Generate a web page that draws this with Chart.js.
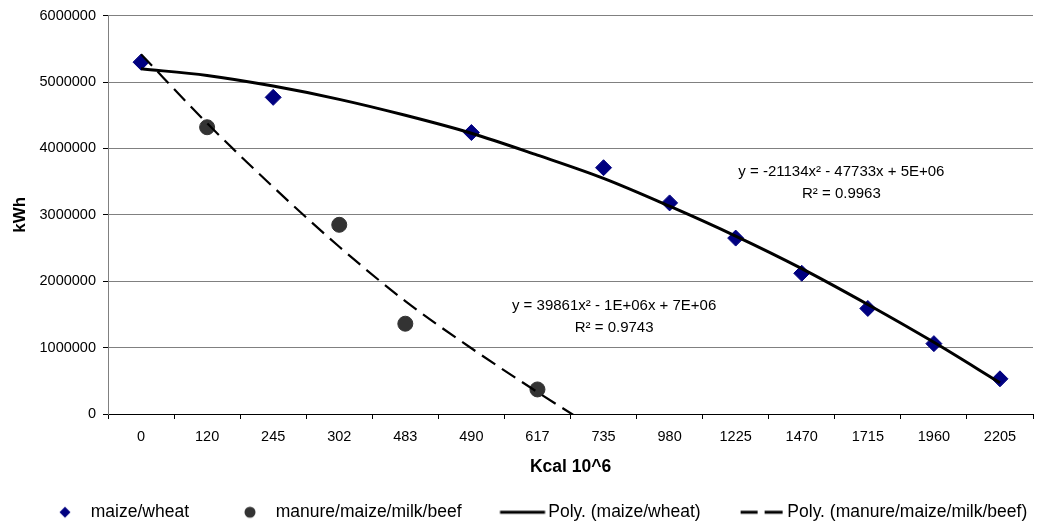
<!DOCTYPE html>
<html>
<head>
<meta charset="utf-8">
<script src="https://cdn.jsdelivr.net/npm/chart.js@4"></script>
<style>
html, body { margin: 0; padding: 0; background: #ffffff; }
#wrap { width: 1049px; height: 524px; position: relative; }
</style>
</head>
<body>
<div id="wrap"><canvas id="chart"></canvas></div>
<script>
// ---- data ----
const categories = ['0', '120', '245', '302', '483', '490', '617', '735', '980', '1225', '1470', '1715', '1960', '2205'];
const maizeWheat = [5300000, null, 4770000, null, null, 4240000, null, 3710000, 3180000, 2650000, 2120000, 1590000, 1060000, 530000];
const manure = [null, 4320000, null, 2850000, 1360000, null, 370000, null, null, null, null, null, null, null];
const polyMaizeWheat = [5200000, 5100000, 4940000, 4740000, 4500000, 4230000, 3900000, 3550000, 3130000, 2680000, 2190000, 1650000, 1080000, 470000];
const polyManure = [5420000, 4380000, 3420000, 2520000, 1700000, 990000, 330000, -300000, null, null, null, null, null, null];
const yTicks = [0, 1000000, 2000000, 3000000, 4000000, 5000000, 6000000];
const seriesNames = ['maize/wheat', 'manure/maize/milk/beef', 'Poly. (maize/wheat)', 'Poly. (manure/maize/milk/beef)'];
const equationLines = [
  ['y = -21134x² - 47733x + 5E+06', 'R² = 0.9963'],
  ['y = 39861x² - 1E+06x + 7E+06', 'R² = 0.9743']
];
// anchor of each equation line in data space (category index, kWh)
const equationAnchorX = [10.6, 7.16];
const equationAnchorY = [[3645000, 3320000], [1627000, 1300000]];

const FONT = "'Liberation Sans', Arial, sans-serif";
const NAVY = '#000080';
const DARK = '#333333';

// legend symbols (drawn into small canvases used as point styles)
function legendIcon(kind) {
  const c = document.createElement('canvas');
  c.width = 100; c.height = 20;
  const g = c.getContext('2d');
  const cx = 72, cy = 10;
  if (kind === 'diamond') {
    g.fillStyle = NAVY;
    g.beginPath();
    g.moveTo(cx - 5.5, cy); g.lineTo(cx, cy - 5.5); g.lineTo(cx + 5.5, cy); g.lineTo(cx, cy + 5.5);
    g.closePath(); g.fill();
  } else if (kind === 'circle') {
    g.fillStyle = DARK;
    g.beginPath(); g.arc(cx, cy, 5.5, 0, Math.PI * 2); g.fill();
  } else if (kind === 'solid') {
    g.strokeStyle = '#000'; g.lineWidth = 3;
    g.beginPath(); g.moveTo(cx - 22.5, cy); g.lineTo(cx + 22.5, cy); g.stroke();
  } else {
    g.strokeStyle = '#000'; g.lineWidth = 3;
    g.beginPath(); g.moveTo(cx - 21, cy); g.lineTo(cx - 4, cy); g.moveTo(cx + 3, cy); g.lineTo(cx + 21, cy); g.stroke();
  }
  return c;
}
const legendIcons = [legendIcon('diamond'), legendIcon('circle'), legendIcon('solid'), legendIcon('dashed')];

const equationPlugin = {
  id: 'equations',
  afterDatasetsDraw(chart) {
    const { ctx, scales } = chart;
    ctx.save();
    ctx.font = '15px ' + FONT;
    ctx.fillStyle = '#000';
    ctx.textAlign = 'center';
    ctx.textBaseline = 'middle';
    equationLines.forEach((lines, k) => {
      lines.forEach((t, i) => {
        ctx.fillText(t, scales.x.getPixelForValue(equationAnchorX[k]), scales.y.getPixelForValue(equationAnchorY[k][i]));
      });
    });
    ctx.restore();
  }
};

new Chart(document.getElementById('chart'), {
  type: 'line',
  data: {
    labels: categories,
    datasets: [
      {
        label: seriesNames[0], data: maizeWheat, showLine: false, order: 2,
        pointStyle: 'rectRot', pointRadius: 8, pointBorderWidth: 1,
        pointBackgroundColor: NAVY, pointBorderColor: NAVY, borderColor: NAVY, backgroundColor: NAVY
      },
      {
        label: seriesNames[1], data: manure, showLine: false, order: 2,
        pointStyle: 'circle', pointRadius: 7.5, pointBorderWidth: 1,
        pointBackgroundColor: DARK, pointBorderColor: DARK, borderColor: DARK, backgroundColor: DARK
      },
      {
        label: seriesNames[2], data: polyMaizeWheat, order: 0,
        borderColor: '#000', borderWidth: 3, pointRadius: 0, cubicInterpolationMode: 'monotone', fill: false
      },
      {
        label: seriesNames[3], data: polyManure, order: 0,
        borderColor: '#000', borderWidth: 2.2, borderDash: [16, 8], pointRadius: 0, cubicInterpolationMode: 'monotone', fill: false
      }
    ]
  },
  options: {
    responsive: true,
    maintainAspectRatio: false,
    animation: false,
    events: [],
    layout: { padding: { top: 15, right: 16, bottom: -7, left: 4 } },
    scales: {
      x: {
        type: 'category',
        offset: true,
        grid: { display: true, drawOnChartArea: false, drawTicks: true, tickLength: 5, tickColor: '#000', offset: true },
        border: { display: true, color: '#000', width: 1 },
        ticks: { color: '#000', font: { family: FONT, size: 14.5 }, padding: 9, maxRotation: 0, minRotation: 0, autoSkip: false },
        title: { display: true, text: 'Kcal 10^6', color: '#000', font: { family: FONT, size: 17.5, weight: 'bold' }, padding: { top: 0, bottom: 26 } },
        afterFit(s) { s.height = 89.5; }
      },
      y: {
        min: 0, max: 6000000,
        grid: {
          color: (c) => (c.tick && c.tick.value === 0 ? '#000' : '#808080'),
          lineWidth: 1, tickLength: 5, tickColor: '#000'
        },
        border: { display: true, color: '#808080', width: 1 },
        ticks: { color: '#000', font: { family: FONT, size: 14.5 }, padding: 7, stepSize: 1000000, callback: (v) => String(v) },
        afterBuildTicks(s) { s.ticks = yTicks.map((v) => ({ value: v })); },
        title: { display: true, text: 'kWh', color: '#000', font: { family: FONT, size: 17, weight: 'bold' }, padding: { top: 6, bottom: 0 } },
        afterFit(s) { s.width = 104; }
      }
    },
    plugins: {
      tooltip: { enabled: false },
      legend: {
        display: true,
        position: 'bottom',
        align: 'start',
        labels: {
          usePointStyle: true,
          pointStyleWidth: 78,
          padding: 0,
          color: '#000',
          font: { family: FONT, size: 17.5 },
          generateLabels: (chart) => chart.data.datasets.map((ds, i) => ({
            text: ds.label,
            pointStyle: legendIcons[i],
            fillStyle: 'rgba(0,0,0,0)',
            strokeStyle: 'rgba(0,0,0,0)',
            lineWidth: 0,
            hidden: false,
            datasetIndex: i
          }))
        }
      }
    }
  },
  plugins: [equationPlugin]
});
</script>
</body>
</html>
